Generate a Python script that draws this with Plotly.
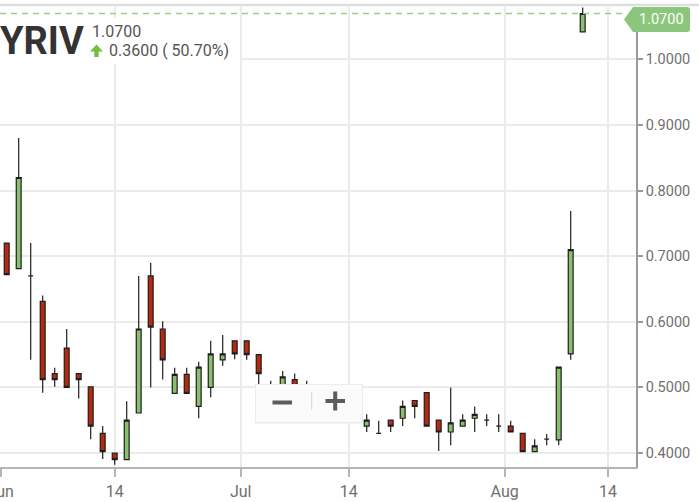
import plotly.graph_objects as go

# ---------------- data ----------------
dates = ["2019-06-03", "2019-06-04", "2019-06-05", "2019-06-06", "2019-06-07",
         "2019-06-10", "2019-06-11", "2019-06-12", "2019-06-13", "2019-06-14",
         "2019-06-17", "2019-06-18", "2019-06-19", "2019-06-20", "2019-06-21",
         "2019-06-24", "2019-06-25", "2019-06-26", "2019-06-27", "2019-06-28",
         "2019-07-01", "2019-07-02", "2019-07-03", "2019-07-05", "2019-07-08",
         "2019-07-09", "2019-07-10", "2019-07-11", "2019-07-12", "2019-07-15",
         "2019-07-16", "2019-07-17", "2019-07-18", "2019-07-19", "2019-07-22",
         "2019-07-23", "2019-07-24", "2019-07-25", "2019-07-26", "2019-07-29",
         "2019-07-30", "2019-07-31", "2019-08-01", "2019-08-02", "2019-08-05",
         "2019-08-06", "2019-08-07", "2019-08-08", "2019-08-09"]

opens = [0.720, 0.681, 0.670, 0.631, 0.521, 0.560, 0.521, 0.501, 0.430, 0.400,
         0.390, 0.461, 0.670, 0.589, 0.491, 0.520, 0.471, 0.500, 0.542, 0.571,
         0.571, 0.550, 0.500, 0.500, 0.512, 0.500, 0.490, 0.480, 0.468, 0.470,
         0.441, 0.430, 0.450, 0.453, 0.480, 0.492, 0.450, 0.432, 0.441, 0.453,
         0.450, 0.441, 0.441, 0.430, 0.402, 0.421, 0.420, 0.551, 1.042]
highs = [0.720, 0.880, 0.720, 0.640, 0.530, 0.589, 0.521, 0.501, 0.441, 0.400,
         0.479, 0.670, 0.690, 0.601, 0.530, 0.530, 0.539, 0.571, 0.580, 0.571,
         0.571, 0.550, 0.510, 0.525, 0.521, 0.510, 0.497, 0.488, 0.480, 0.476,
         0.459, 0.449, 0.450, 0.480, 0.480, 0.492, 0.450, 0.500, 0.459, 0.471,
         0.459, 0.459, 0.449, 0.430, 0.421, 0.429, 0.531, 0.769, 1.079]
lows = [0.672, 0.681, 0.542, 0.492, 0.501, 0.500, 0.483, 0.421, 0.391, 0.382,
        0.390, 0.461, 0.500, 0.512, 0.491, 0.491, 0.453, 0.485, 0.533, 0.543,
        0.542, 0.500, 0.485, 0.495, 0.490, 0.488, 0.475, 0.466, 0.460, 0.455,
        0.432, 0.429, 0.432, 0.441, 0.453, 0.441, 0.403, 0.412, 0.441, 0.432,
        0.441, 0.432, 0.432, 0.402, 0.402, 0.412, 0.412, 0.542, 1.042]
closes = [0.672, 0.820, 0.670, 0.512, 0.512, 0.500, 0.512, 0.441, 0.402, 0.390,
          0.450, 0.589, 0.592, 0.542, 0.520, 0.491, 0.531, 0.551, 0.551, 0.551,
          0.550, 0.521, 0.490, 0.516, 0.495, 0.495, 0.480, 0.470, 0.474, 0.462,
          0.450, 0.430, 0.441, 0.471, 0.471, 0.441, 0.432, 0.446, 0.450, 0.459,
          0.450, 0.441, 0.432, 0.402, 0.411, 0.421, 0.531, 0.710, 1.070]

tick_labels = ["Jun", "14", "Jul", "14", "Aug", "14"]
tick_positions = [-0.5, 9, 19.5, 28.5, 41.5, 50.1]   # in trading-day slots
y_ticks = [0.4, 0.5, 0.6, 0.7, 0.8, 0.9, 1.0]

symbol = "YRIV"
last_price = closes[-1]
change = 0.36
change_pct = 50.70

# ---------------- layout helpers ----------------
W, H = 699, 502
ML, MR, MT, MB = 0, 63, 7, 35
PW, PH = W - ML - MR, H - MT - MB


def px(x):
    return (x - ML) / PW


def py(y):
    return (H - MB - y) / PH


x_slots = list(range(len(dates)))

GREEN = "#88c070"
RED = "#b82a10"
EDGE = "#1e1e1e"

fig = go.Figure()
fig.add_trace(go.Candlestick(
    x=x_slots, open=opens, high=highs, low=lows, close=closes,
    text=dates, hoverinfo="text+y",
    increasing=dict(fillcolor=GREEN, line=dict(color=EDGE, width=1.2)),
    decreasing=dict(fillcolor=RED, line=dict(color=EDGE, width=1.2)),
    whiskerwidth=0, showlegend=False,
))

shapes = []
# top border
shapes.append(dict(type="line", xref="paper", yref="paper",
                   x0=px(0), x1=px(W), y0=py(5), y1=py(5),
                   line=dict(color="#dedede", width=2.5), layer="above"))
# last price dashed line
shapes.append(dict(type="line", xref="paper", yref="y",
                   x0=0, x1=px(624), y0=last_price, y1=last_price,
                   line=dict(color="#96cf87", width=1.3, dash="6px,5px"), layer="above"))
# price tag
tag_path = (f"M {px(624)} {py(19.5)} L {px(633)} {py(7)} L {px(687)} {py(7)} "
            f"Q {px(690)} {py(7)} {px(690)} {py(10)} L {px(690)} {py(29)} "
            f"Q {px(690)} {py(32)} {px(687)} {py(32)} L {px(633)} {py(32)} Z")
shapes.append(dict(type="path", xref="paper", yref="paper", path=tag_path,
                   fillcolor="#8cc67c", line=dict(width=0), layer="above"))
# symbol box
shapes.append(dict(type="rect", xref="paper", yref="paper",
                   x0=px(-2), x1=px(240), y0=py(64), y1=py(18),
                   fillcolor="white", line=dict(width=0), layer="above"))
# up arrow
arrow_path = (f"M {px(96.5)} {py(44.5)} L {px(103)} {py(51.5)} L {px(98.7)} {py(51.5)} "
              f"L {px(98.7)} {py(57)} L {px(94.3)} {py(57)} L {px(94.3)} {py(51.5)} "
              f"L {px(90)} {py(51.5)} Z")
shapes.append(dict(type="path", xref="paper", yref="paper", path=arrow_path,
                   fillcolor="#74bf3f", line=dict(width=0), layer="above"))
# zoom control
shapes.append(dict(type="rect", xref="paper", yref="paper",
                   x0=px(255), x1=px(363), y0=py(423.5), y1=py(384),
                   fillcolor="#ececec", line=dict(width=0), layer="above"))
shapes.append(dict(type="rect", xref="paper", yref="paper",
                   x0=px(256), x1=px(362), y0=py(422), y1=py(385),
                   fillcolor="#fbfbfb", line=dict(width=0), layer="above"))
shapes.append(dict(type="line", xref="paper", yref="paper",
                   x0=px(311.7), x1=px(311.7), y0=py(392), y1=py(410),
                   line=dict(color="#d6d6d6", width=1), layer="above"))
shapes.append(dict(type="line", xref="paper", yref="paper",
                   x0=px(272.5), x1=px(292), y0=py(402.5), y1=py(402.5),
                   line=dict(color="#5c5c5c", width=4), layer="above"))
shapes.append(dict(type="line", xref="paper", yref="paper",
                   x0=px(325.5), x1=px(345), y0=py(401), y1=py(401),
                   line=dict(color="#5c5c5c", width=4), layer="above"))
shapes.append(dict(type="line", xref="paper", yref="paper",
                   x0=px(335.2), x1=px(335.2), y0=py(391.5), y1=py(410.5),
                   line=dict(color="#5c5c5c", width=4), layer="above"))

annotations = [
    dict(text="<b>" + symbol + "</b>", xref="paper", yref="paper",
         x=px(-2), y=py(41), xanchor="left", yanchor="middle", showarrow=False,
         font=dict(family="Roboto", size=38, color="#333333")),
    dict(text=f"{last_price:.4f}", xref="paper", yref="paper",
         x=px(89.5), y=py(31), xanchor="left", yanchor="middle", showarrow=False,
         font=dict(family="Roboto", size=16, color="#555555")),
    dict(text=f"{change:.4f} ( {change_pct:.2f}%)", xref="paper", yref="paper",
         x=px(107), y=py(50), xanchor="left", yanchor="middle", showarrow=False,
         font=dict(family="Roboto", size=16, color="#555555")),
    dict(text=f"{last_price:.4f}", xref="paper", yref="paper",
         x=px(661), y=py(20), xanchor="center", yanchor="middle", showarrow=False,
         font=dict(family="Roboto", size=14.5, color="white")),
]

fig.update_layout(
    width=W, height=H,
    margin=dict(l=ML, r=MR, t=MT, b=MB, pad=0),
    paper_bgcolor="white", plot_bgcolor="white",
    boxgap=0.42,
    shapes=shapes, annotations=annotations,
    showlegend=False,
    xaxis=dict(
        range=[9 - 114.7 / 12, 9 + (PW - 114.7) / 12],
        rangeslider=dict(visible=False),
        tickmode="array", tickvals=tick_positions, ticktext=tick_labels,
        ticks="outside", ticklen=8, tickwidth=1.5, tickcolor="#b5b5b5",
        showline=True, linecolor="#b5b5b5", linewidth=1.5,
        showgrid=True, gridcolor="#ebebeb", gridwidth=2,
        zeroline=False, automargin=False, ticklabeloverflow="allow",
        tickfont=dict(family="Roboto", size=16, color="#707070"),
        ticklabelstandoff=1,
    ),
    yaxis=dict(
        side="right",
        range=[0.4 - 14 / 656, 0.4 + 446 / 656],
        tickmode="array", tickvals=y_ticks,
        ticktext=[f"{v:.4f}" for v in y_ticks],
        ticks="outside", ticklen=5, tickwidth=1.5, tickcolor="#9a9a9a",
        showline=True, linecolor="#9a9a9a", linewidth=1.5,
        showgrid=True, gridcolor="#ebebeb", gridwidth=2,
        zeroline=False, automargin=False,
        tickfont=dict(family="Roboto", size=14.5, color="#707070"),
    ),
)

fig.write_html("out.html",
               config={"displayModeBar": False},
               post_script="document.body.style.margin='0';"
                           "document.body.style.overflow='hidden';")
